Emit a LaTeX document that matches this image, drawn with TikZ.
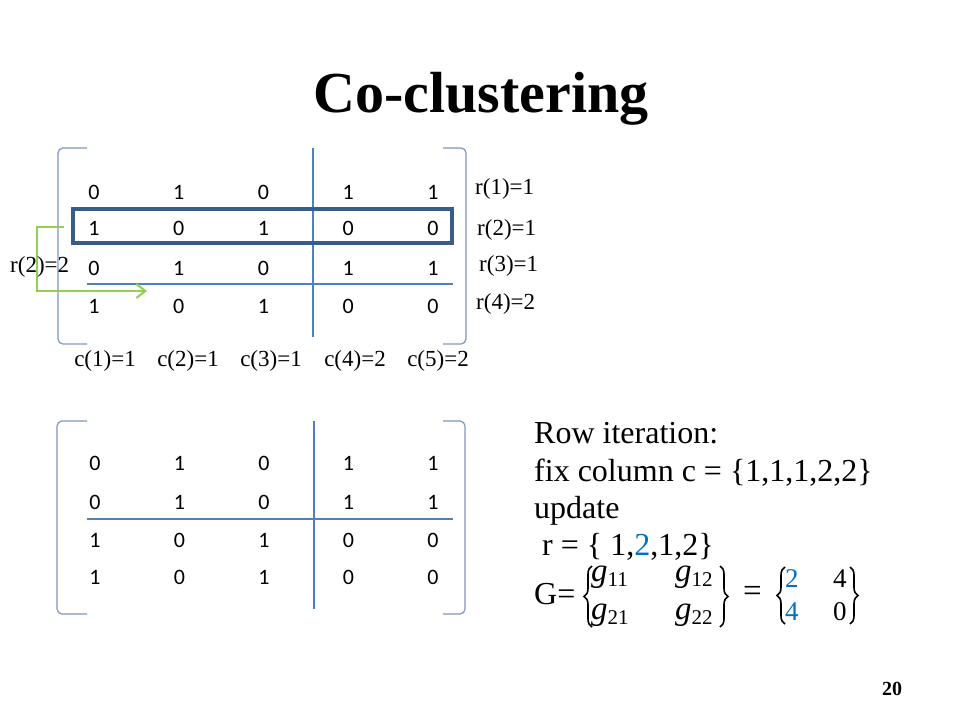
\documentclass[tikz,border=0pt]{standalone}
\usepackage{fontspec}
\setmainfont{Liberation Serif}
\newfontfamily\calib{Carlito}
\usetikzlibrary{arrows.meta,decorations.pathreplacing}
\definecolor{linblue}{HTML}{4F81BD}
\definecolor{boxblue}{HTML}{385D8A}
\definecolor{brk}{HTML}{7F96BF}
\definecolor{grn}{HTML}{92D050}
\definecolor{hl}{HTML}{0070C0}
\newcommand\gent[1]{{\itshape g}{\fontsize{21}{21}\selectfont\raisebox{-5pt}{#1}}}
\begin{document}
\begin{tikzpicture}[x=1pt,y=-1pt,
  dig/.style={inner sep=0pt,font=\calib\fontsize{22}{24}\selectfont},
  lab/.style={inner sep=0pt,font=\fontsize{23}{26}\selectfont},
  body/.style={inner sep=0pt,anchor=base west,font=\fontsize{32}{37}\selectfont},
  gtxt/.style={inner sep=0pt,anchor=base west,font=\fontsize{33}{37}\selectfont},
  vtxt/.style={inner sep=0pt,anchor=base west,font=\fontsize{27}{30}\selectfont},
  curly/.style={decorate,decoration={brace,amplitude=8pt},line width=1.6pt},
  sep/.style={linblue,line width=1.6pt},
  brack/.style={brk,line width=1.2pt,rounded corners=5pt}]
\useasboundingbox (0,0) rectangle (960,720);
\node[inner sep=0pt,anchor=base,font=\bfseries\fontsize{58}{64}\selectfont] (title) at (481,112) {Co-clustering};
% top matrix
\foreach \y/\vals [count=\r] in {192/{0,1,0,1,1},228/{1,0,1,0,0},268/{0,1,0,1,1},306/{1,0,1,0,0}}{
  \foreach \v [count=\c] in \vals {
    \node[dig] (t-\r-\c) at ({94+(\c-1)*84.75},\y) {\v};
  }
}
\foreach \y/\vals [count=\r] in {463/{0,1,0,1,1},502/{0,1,0,1,1},540/{1,0,1,0,0},577/{1,0,1,0,0}}{
  \foreach \v [count=\c] in \vals {
    \node[dig] (b-\r-\c) at ({95+(\c-1)*84.5},\y) {\v};
  }
}
% brackets
\draw[brack] (87,148) -- (58,148) -- (58,344) -- (87,344);
\draw[brack] (443,148) -- (466,148) -- (466,344) -- (443,344);
\draw[brack] (87,421) -- (57,421) -- (57,614) -- (87,614);
\draw[brack] (443,421) -- (465,421) -- (465,614) -- (443,614);
% separators
\coordinate (tv1) at (313,148); \coordinate (tv2) at (313,337);
\coordinate (th1) at (87,284); \coordinate (th2) at (453,284);
\draw[sep] (tv1) -- (tv2);
\draw[sep] (th1) -- (th2);
\coordinate (bv1) at (314,421); \coordinate (bv2) at (314,609);
\coordinate (bh1) at (87,519); \coordinate (bh2) at (453,519);
\draw[sep] (bv1) -- (bv2);
\draw[sep] (bh1) -- (bh2);
% row box
\draw[boxblue,line width=3.5pt] (73,209) rectangle (452,243);
% green arrow
\coordinate (ga) at (64,227);
\coordinate (gb) at (147,291);
\draw[grn,line width=2pt,-{Straight Barb[length=9pt,width=14pt]}] (ga) -- (37,227) -- (37,291) -- (gb);
% labels
\node[lab,anchor=west] (r1) at (475,189) {r(1)=1};
\node[lab,anchor=west] (r2) at (477,230) {r(2)=1};
\node[lab,anchor=west] (r3) at (479,266) {r(3)=1};
\node[lab,anchor=west] (r4) at (476,304) {r(4)=2};
\node[lab,anchor=west] (r2n) at (10,267) {r(2)=2};
\node[lab] (c1) at (105,361) {c(1)=1};
\node[lab] (c2) at (188,361) {c(2)=1};
\node[lab] (c3) at (271,361) {c(3)=1};
\node[lab] (c4) at (355,361) {c(4)=2};
\node[lab] (c5) at (438,361) {c(5)=2};
% right text
\node[body] (l1) at (534,443) {Row iteration:};
\node[body] (l2) at (534,481) {fix column c = \{1,1,1,2,2\}};
\node[body] (l3) at (534,518) {update};
\node[body] (l4) at (534,555) {\ r = \{ 1,\textcolor{hl}{2},1,2\}};
\node[body] (gl) at (534,604) {G=};
% G matrices
\node[gtxt] (g11) at (591,581) {\gent{11}};
\node[gtxt] (g12) at (675,581) {\gent{12}};
\node[gtxt] (g21) at (591,619) {\gent{21}};
\node[gtxt] (g22) at (675,619) {\gent{22}};
\draw[curly] (592,627) -- (592,566);
\draw[curly] (720,566) -- (720,627);
\node[gtxt] (eq) at (743,601) {=};
\draw[curly] (785,624) -- (785,567);
\draw[curly] (850,567) -- (850,624);
\node[vtxt,text=hl] (v11) at (785,587) {2};
\node[vtxt] (v12) at (833,587) {4};
\node[vtxt,text=hl] (v21) at (785,620) {4};
\node[vtxt] (v22) at (833,620) {0};
\node[inner sep=0pt,anchor=base,font=\bfseries\fontsize{20}{24}\selectfont] (pg) at (892,695) {20};
\end{tikzpicture}
\end{document}
